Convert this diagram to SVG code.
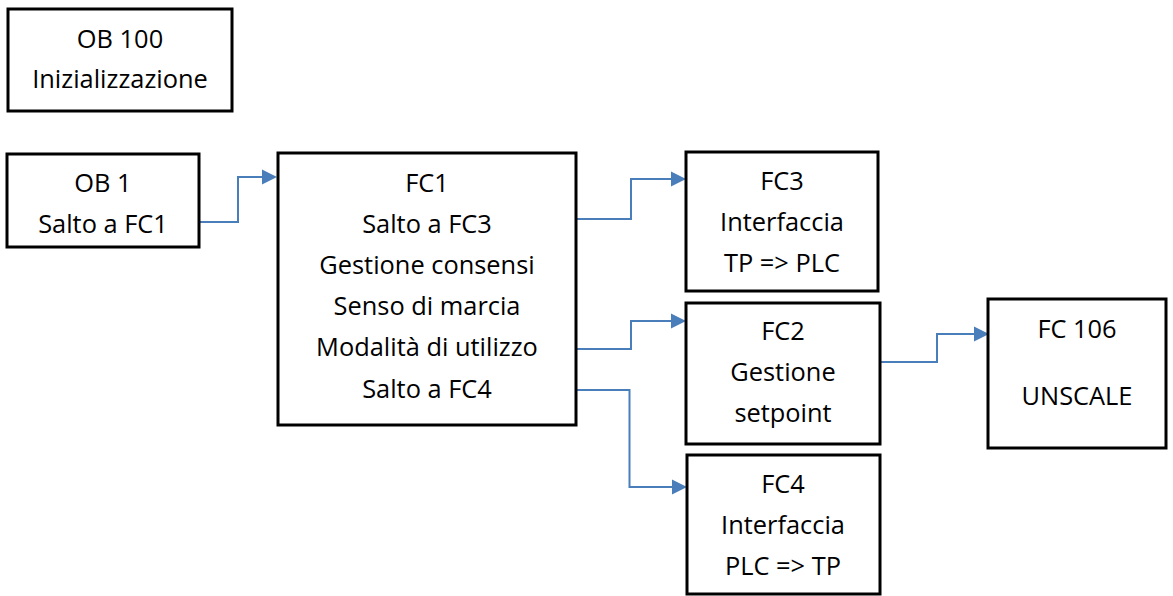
<svg xmlns="http://www.w3.org/2000/svg" width="1173" height="596" viewBox="0 0 1173 596">
<defs>
<style>
.box{fill:#fff;stroke:#000;stroke-width:3}
.t{font-family:"Open Sans","Liberation Sans",sans-serif;font-size:25.4px;fill:#000;text-anchor:middle}
.c{fill:none;stroke:#4a7ebb;stroke-width:2}
.a{fill:#4a7ebb}
</style>
</defs>
<rect width="1173" height="596" fill="#fff"/>
<g id="connectors">
<path class="c" d="M199,222 H238 V177 H262"/>
<polygon class="a" points="262,169.5 277,177 262,184.5"/>
<path class="c" d="M576,219 H631 V179 H671"/>
<polygon class="a" points="671,171.5 686,179 671,186.5"/>
<path class="c" d="M576,349 H631 V321 H671"/>
<polygon class="a" points="671,313.5 686,321 671,328.5"/>
<path class="c" d="M576,390 H629.5 V487 H672"/>
<polygon class="a" points="672,479.5 687,487 672,494.5"/>
<path class="c" d="M881,362 H937 V334 H974"/>
<polygon class="a" points="974,326.5 989,334 974,341.5"/>
</g>
<g id="ob100">
<rect class="box" x="8" y="9" width="224" height="102"/>
<text class="t" x="120" y="48">OB 100</text>
<text class="t" x="120" y="88">Inizializzazione</text>
</g>
<g id="ob1">
<rect class="box" x="7" y="154" width="192" height="93"/>
<text class="t" x="103" y="192">OB 1</text>
<text class="t" x="103" y="233">Salto a FC1</text>
</g>
<g id="fc1">
<rect class="box" x="278" y="153" width="298" height="272"/>
<text class="t" x="427" y="192">FC1</text>
<text class="t" x="427" y="233">Salto a FC3</text>
<text class="t" x="427" y="274">Gestione consensi</text>
<text class="t" x="427" y="315">Senso di marcia</text>
<text class="t" x="427" y="356">Modalità di utilizzo</text>
<text class="t" x="427" y="398">Salto a FC4</text>
</g>
<g id="fc3">
<rect class="box" x="686" y="152" width="192" height="139"/>
<text class="t" x="782" y="190">FC3</text>
<text class="t" x="782" y="231">Interfaccia</text>
<text class="t" x="782" y="272">TP =&gt; PLC</text>
</g>
<g id="fc2">
<rect class="box" x="686" y="303" width="194" height="141"/>
<text class="t" x="783" y="340">FC2</text>
<text class="t" x="783" y="381">Gestione</text>
<text class="t" x="783" y="422">setpoint</text>
</g>
<g id="fc4">
<rect class="box" x="687" y="455" width="193" height="139"/>
<text class="t" x="783" y="493">FC4</text>
<text class="t" x="783" y="534">Interfaccia</text>
<text class="t" x="783" y="575">PLC =&gt; TP</text>
</g>
<g id="fc106">
<rect class="box" x="988" y="299" width="178" height="149"/>
<text class="t" x="1077" y="338">FC 106</text>
<text class="t" x="1077" y="405">UNSCALE</text>
</g>
</svg>
